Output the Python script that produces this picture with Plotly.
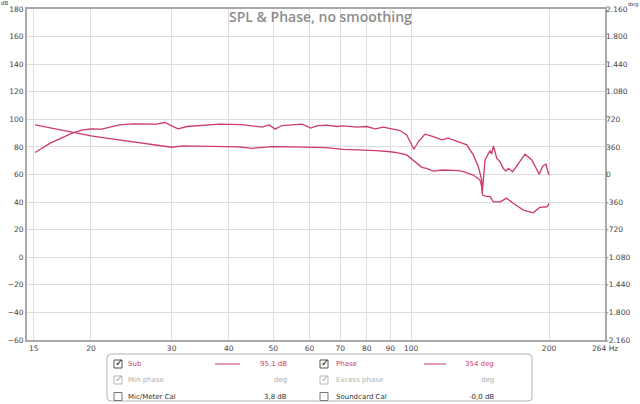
import math
import plotly.graph_objects as go

# ---------------- data ----------------
spl_freq = [15.1, 16.3, 18.3, 19.2, 20.0, 21.1, 23.1, 24.7, 27.8, 29.0, 30.0, 31.0, 32.4,
            34.6, 38.2, 42.7, 47.3, 49.0, 50.5, 52.2, 57.8, 60.4, 62.2, 65.4, 68.8, 71.1,
            76.0, 80.0, 83.4, 87.0, 90.7, 94.6, 97.8, 101.4, 103.7, 107.2, 111.8, 116.6,
            120.5, 126.8, 132.3, 136.7, 140.2, 142.6, 143.0, 145.0, 147.5, 148.7, 150.0,
            151.2, 152.5, 153.8, 156.3, 158.9, 161.1, 163.0, 166.6, 171.4, 177.3, 183.4,
            188.0, 190.5, 193.8, 197.0, 198.4, 200.0]
spl_db = [75.9, 82.7, 90.4, 92.4, 93.0, 92.9, 96.0, 96.7, 96.5, 97.7, 95.3, 93.1, 94.8,
          95.5, 96.5, 96.2, 94.3, 96.0, 92.9, 95.5, 96.5, 93.6, 95.3, 95.8, 94.8, 95.3,
          94.3, 94.8, 93.1, 94.3, 93.1, 91.9, 88.7, 78.3, 83.9, 89.2, 87.5, 85.1,
          86.3, 83.9, 81.5, 74.2, 65.7, 56.0, 46.5, 70.5, 75.4, 77.3, 74.9,
          80.7, 76.6, 71.7, 69.3, 64.5, 62.5, 64.5, 62.0, 68.1, 74.7, 70.5,
          63.3, 60.1, 66.2, 67.4, 63.3, 59.6]

phase_freq = [15.1, 18.3, 20.0, 22.0, 25.2, 27.3, 30.0, 31.8, 35.0, 38.2, 42.0, 44.9, 49.7,
              55.0, 60.1, 65.0, 71.1, 78.0, 84.1, 90.0, 93.0, 97.8, 102.0, 105.5, 108.0,
              111.8, 117.0, 121.6, 127.0, 130.0, 136.7, 141.4, 142.6, 143.3, 145.0, 148.7,
              151.2, 156.3, 161.6, 167.1, 175.8, 184.8, 190.8, 197.9, 200.0]
phase_deg = [648, 553, 504, 468, 421, 396, 356, 373, 369, 364, 360, 342, 364,
             360, 356, 351, 329, 324, 311, 297, 286, 256, 167, 94, 81,
             45, 59, 59, 50, 36, -7, -72, -160, -268, -281, -290,
             -356, -356, -311, -376, -464, -500, -430, -421, -376]

x_ticks = [15, 20, 30, 40, 50, 60, 70, 80, 90, 100, 200]
x_tick_text = ["15", "20", "30", "40", "50", "60", "70", "80", "90", "100", "200"]
x_end_label = "264 Hz"
db_ticks = list(range(-60, 181, 20))
deg_ticks = list(range(-2160, 2161, 360))
deg_tick_text = ["-2.160", "-1.800", "-1.440", "-1.080", "-720", "-360", "0", "360", "720",
                 "1.080", "1.440", "1.800", "2.160"]

title_text = "SPL & Phase, no smoothing"
legend_rows = [
    # (left checked, left label, left value, right checked, right label, right value, style)
    (True, "Sub", "95,1 dB", True, "Phase", "354 deg", "active"),
    (True, "Min phase", "deg", True, "Excess phase", "deg", "muted"),
    (False, "Mic/Meter Cal", "3,8 dB", False, "Soundcard Cal", "-0,0 dB", "plain"),
]

# ---------------- layout geometry ----------------
W, H = 640, 404
ML, MR, MT, MB = 27, 35, 9, 64
PW, PH = W - ML - MR, H - MT - MB
CRIMSON = "#cc3a70"
GRID = "#dedede"
AX = "#a9a9a9"


def px(x):
    return (x - ML) / PW


def py(y):
    return (H - MB - y) / PH


fig = go.Figure()
fig.add_trace(go.Scatter(x=spl_freq, y=spl_db, mode="lines", line=dict(color=CRIMSON, width=1.3),
                         name="Sub", hoverinfo="skip"))
fig.add_trace(go.Scatter(x=phase_freq, y=phase_deg, mode="lines", yaxis="y2",
                         line=dict(color=CRIMSON, width=1.3), name="Phase", hoverinfo="skip"))

tickfont = dict(family="DejaVu Sans", size=7.5, color="#444")

fig.update_layout(
    width=W, height=H,
    margin=dict(l=ML, r=MR, t=MT, b=MB, pad=0),
    paper_bgcolor="white", plot_bgcolor="white",
    showlegend=False,
    xaxis=dict(type="log", range=[math.log10(14.5), math.log10(265)],
               tickvals=x_ticks, ticktext=x_tick_text, tickfont=tickfont,
               showgrid=True, gridcolor=GRID, gridwidth=1, zeroline=False,
               showline=True, linecolor=AX, linewidth=2, mirror=True,
               ticks="", automargin=False),
    yaxis=dict(range=[-60, 180], tickvals=db_ticks, tickfont=tickfont,
               showgrid=True, gridcolor=GRID, gridwidth=1, zeroline=False,
               showline=True, linecolor=AX, linewidth=2, mirror=True,
               ticks="", automargin=False),
    yaxis2=dict(range=[-2160, 2160], overlaying="y", side="right",
                tickvals=deg_ticks, ticktext=deg_tick_text, tickfont=tickfont,
                showgrid=False, zeroline=False, showline=False, ticks="", automargin=False),
)

ann = []
ann.append(dict(x=px(320), y=py(16), xref="paper", yref="paper", text=title_text,
                showarrow=False, xanchor="center", yanchor="middle",
                font=dict(family="Open Sans", size=14, color="#8c8c8c", weight=600)))
ann.append(dict(x=px(4.5), y=py(3.5), xref="paper", yref="paper", text="dB", showarrow=False,
                xanchor="center", yanchor="middle", borderpad=0,
                font=dict(family="DejaVu Sans", size=5.5, color="#444")))
ann.append(dict(x=px(633), y=py(4), xref="paper", yref="paper", text="deg", showarrow=False,
                xanchor="center", yanchor="middle", borderpad=0,
                font=dict(family="DejaVu Sans", size=5.5, color="#444")))
ann.append(dict(x=px(605), y=py(348), xref="paper", yref="paper", text=x_end_label, showarrow=False,
                xanchor="center", yanchor="middle", font=tickfont))

shapes = []
# legend box with rounded corners
bx0, bx1, by0, by1, r = 107, 532, 354, 401, 4


def P(x, y):
    return f"{px(x):.5f},{py(y):.5f}"


path = (f"M {P(bx0 + r, by0)} L {P(bx1 - r, by0)} Q {P(bx1, by0)} {P(bx1, by0 + r)} "
        f"L {P(bx1, by1 - r)} Q {P(bx1, by1)} {P(bx1 - r, by1)} L {P(bx0 + r, by1)} "
        f"Q {P(bx0, by1)} {P(bx0, by1 - r)} L {P(bx0, by0 + r)} Q {P(bx0, by0)} {P(bx0 + r, by0)} Z")
shapes.append(dict(type="path", xref="paper", yref="paper", path=path,
                   line=dict(color="#b5b5b5", width=1), fillcolor="white", layer="below"))

row_y = [364, 380, 396.5]
styles = {"active": (CRIMSON, CRIMSON, "#555"), "muted": ("#b0b0b0", "#b0b0b0", "#b8b8b8"),
          "plain": ("#333", "#333", "#777")}
cols = [(114, 126, 215, 240, 289), (320, 334, 424, 446, 496)]
for (c1, l1, v1, c2, l2, v2, st), yy in zip(legend_rows, row_y):
    txtc, valc, boxc = styles[st]
    for (cx, lx, sx0, sx1, vx), chk, lab, val in zip(cols, (c1, c2), (l1, l2), (v1, v2)):
        shapes.append(dict(type="rect", xref="paper", yref="paper",
                           x0=px(cx), x1=px(cx + 8), y0=py(yy + 4), y1=py(yy - 4),
                           line=dict(color=boxc, width=1), fillcolor="white"))
        if chk:
            ann.append(dict(x=px(cx + 5), y=py(yy - 1.5), xref="paper", yref="paper", text="✓",
                            showarrow=False, xanchor="center", yanchor="middle",
                            font=dict(family="DejaVu Sans", size=10,
                                      color="#222" if st == "active" else "#aaa")))
        ann.append(dict(x=px(lx), y=py(yy), xref="paper", yref="paper", text=lab, showarrow=False,
                        xanchor="left", yanchor="middle",
                        font=dict(family="DejaVu Sans", size=7, color=txtc)))
        ann.append(dict(x=px(vx), y=py(yy), xref="paper", yref="paper", text=val, showarrow=False,
                        xanchor="right", yanchor="middle",
                        font=dict(family="DejaVu Sans", size=7, color=valc)))
        if st == "active":
            shapes.append(dict(type="line", xref="paper", yref="paper",
                               x0=px(sx0), x1=px(sx1), y0=py(yy), y1=py(yy),
                               line=dict(color=CRIMSON, width=1)))

ann.append(dict(x=px(578), y=py(386), xref="paper", yref="paper", text="hifi-forums", showarrow=False,
                xanchor="center", yanchor="middle",
                font=dict(family="DejaVu Sans", size=20, color="rgba(0,0,0,0.018)")))

fig.update_layout(annotations=ann, shapes=shapes)
fig.write_html("out.html")
